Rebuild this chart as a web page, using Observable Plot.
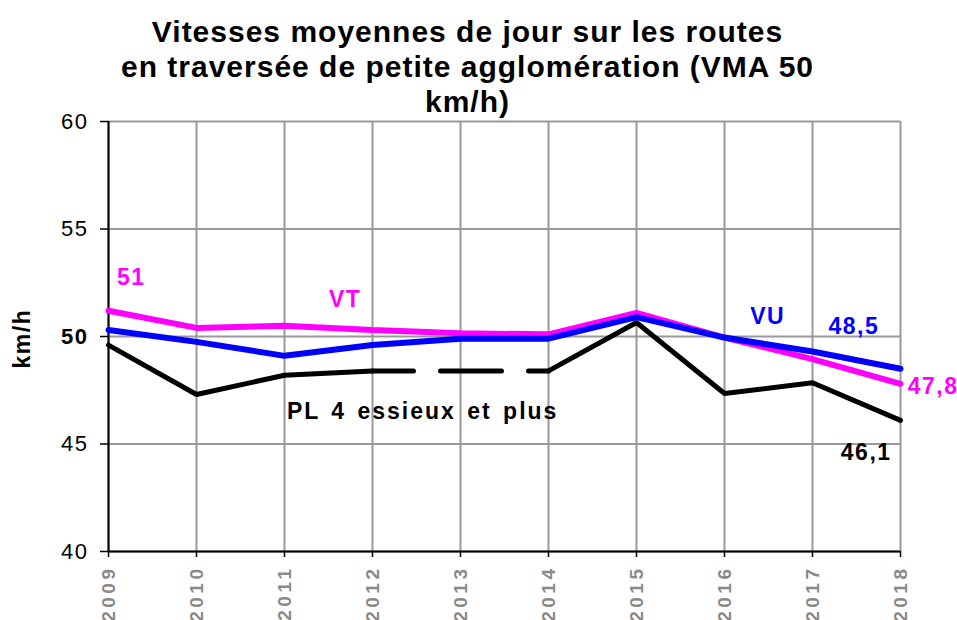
<!DOCTYPE html>
<html><head><meta charset="utf-8">
<script src="https://cdn.jsdelivr.net/npm/d3@7"></script>
<script src="https://cdn.jsdelivr.net/npm/@observablehq/plot@0.6"></script>
<style>body{margin:0;background:#fff;font-family:"Liberation Sans",Arial,sans-serif;}</style>
</head><body><div id="chart"></div>
<script>
const years = [2009, 2010, 2011, 2012, 2013, 2014, 2015, 2016, 2017, 2018];
const vt = [51.2, 50.4, 50.5, 50.3, 50.15, 50.1, 51.1, 49.95, 48.95, 47.8];
const vu = [50.3, 49.75, 49.1, 49.6, 49.9, 49.9, 50.9, 49.95, 49.3, 48.5];
const pl = [49.6, 47.3, 48.2, 48.4, 48.4, 48.4, 50.65, 47.35, 47.85, 46.1];
const plDashedYears = [2012, 2013, 2014];
const yTicks = [40, 45, 50, 55, 60];
const titleLines = ["Vitesses moyennes de jour sur les routes", "en traversée de petite agglomération (VMA 50", "km/h)"];
const yLabel = "km/h";
const labels = [
  {year: 2009.26, value: 52.74, text: "51", color: "#ff00ff"},
  {year: 2011.69, value: 51.72, text: "VT", color: "#ff00ff"},
  {year: 2016.49, value: 50.93, text: "VU", color: "#0000ff"},
  {year: 2017.47, value: 50.47, text: "48,5", color: "#0000ff"},
  {year: 2018.37, value: 47.67, text: "47,8", color: "#ff00ff"},
  {year: 2017.61, value: 44.6, text: "46,1", color: "#000000"}
];
const plLabel = [{year: 2012.57, value: 46.51, text: "PL 4 essieux et plus"}];

const rows = (arr) => years.map((y, i) => ({year: y, value: arr[i]}));
const plRows = rows(pl);
const plSolidA = plRows.filter(d => d.year <= 2012);
const plSolidB = plRows.filter(d => d.year >= 2014);
const plDashed = plRows.filter(d => plDashedYears.includes(d.year));

const chart = Plot.plot({
  width: 957, height: 620,
  marginTop: 121, marginBottom: 69, marginLeft: 108, marginRight: 57,
  style: {fontFamily: '"Liberation Sans", Arial, sans-serif', background: "#fff", overflow: "visible"},
  x: {domain: [2009, 2018], axis: null},
  y: {domain: [40, 60], axis: null},
  marks: [
    Plot.gridX(years, {stroke: "#999", strokeOpacity: 1, strokeWidth: 2}),
    Plot.gridY(yTicks, {stroke: "#999", strokeOpacity: 1, strokeWidth: 2}),
    Plot.axisY(yTicks.filter(d => d !== 50), {tickSize: 8, tickPadding: 12, fontSize: 22, stroke: "#000", strokeWidth: 1.5, fill: "#000", label: null}),
    Plot.axisY([50], {tickSize: 8, tickPadding: 12, fontSize: 22, fontWeight: "bold", stroke: "#000", strokeWidth: 1.5, fill: "#000", label: null}),
    Plot.axisX(years, {tickSize: 6, tickFormat: () => "", stroke: "#000", strokeWidth: 1.5, label: null}),
    Plot.ruleX([2009], {stroke: "#000", strokeWidth: 2}),
    Plot.ruleY([40], {stroke: "#000", strokeWidth: 2}),
    Plot.text(years, {x: d => d, frameAnchor: "bottom", text: d => String(d), rotate: -90, textAnchor: "end", lineAnchor: "middle", dy: 14, fontSize: 19, fontWeight: "bold", fill: "#8a8a8a"}),
    Plot.line(plSolidA, {x: "year", y: "value", stroke: "#000", strokeWidth: 5, strokeLinejoin: "miter"}),
    Plot.line(plSolidB, {x: "year", y: "value", stroke: "#000", strokeWidth: 5, strokeLinejoin: "miter"}),
    Plot.line(plDashed, {x: "year", y: "value", stroke: "#000", strokeWidth: 5, strokeLinecap: "round", strokeDasharray: "61,27", strokeDashoffset: 20}),
    Plot.line(rows(vt), {x: "year", y: "value", stroke: "#ff00ff", strokeWidth: 6, strokeLinejoin: "miter"}),
    Plot.line(rows(vu), {x: "year", y: "value", stroke: "#0000ff", strokeWidth: 6, strokeLinejoin: "miter"}),
    Plot.text(labels, {x: "year", y: "value", text: "text", fill: "color", fontSize: 23, fontWeight: "bold"}),
    Plot.text(plLabel, {x: "year", y: "value", text: "text", fill: "#000", fontSize: 23, fontWeight: "bold"}),
    Plot.text([titleLines.join("\n")], {frameAnchor: "top", dx: -37, dy: -104, lineAnchor: "top", lineHeight: 1.167, fontSize: 30, fontWeight: "bold", fill: "#000"}),
    Plot.text([yLabel], {frameAnchor: "left", dx: -86, dy: 32, rotate: -90, fontSize: 23, fontWeight: "bold", fill: "#000"})
  ]
});

// letter spacing applied as SVG presentation attributes
const yearSet = new Set(years.map(String));
const labelSet = new Set(labels.map(d => d.text));
const tickSet = new Set(yTicks.map(String));
d3.select(chart).selectAll("text").each(function() {
  const el = d3.select(this);
  const t = this.textContent;
  let ls = null, ws = null;
  if (yearSet.has(t)) ls = 3.5;
  else if (labelSet.has(t)) ls = 1.5;
  else if (t === plLabel[0].text) { ls = 2; ws = 3; }
  else if (tickSet.has(t)) ls = 1.5;
  else if (t === yLabel) ls = 1.5;
  if (ls !== null) el.attr("letter-spacing", ls).style("letter-spacing", ls + "px");
  if (ws !== null) el.attr("word-spacing", ws).style("word-spacing", ws + "px");
});
d3.select(chart).selectAll("tspan").attr("letter-spacing", 1).style("letter-spacing", "1px");
document.getElementById("chart").append(chart);
</script></body></html>
